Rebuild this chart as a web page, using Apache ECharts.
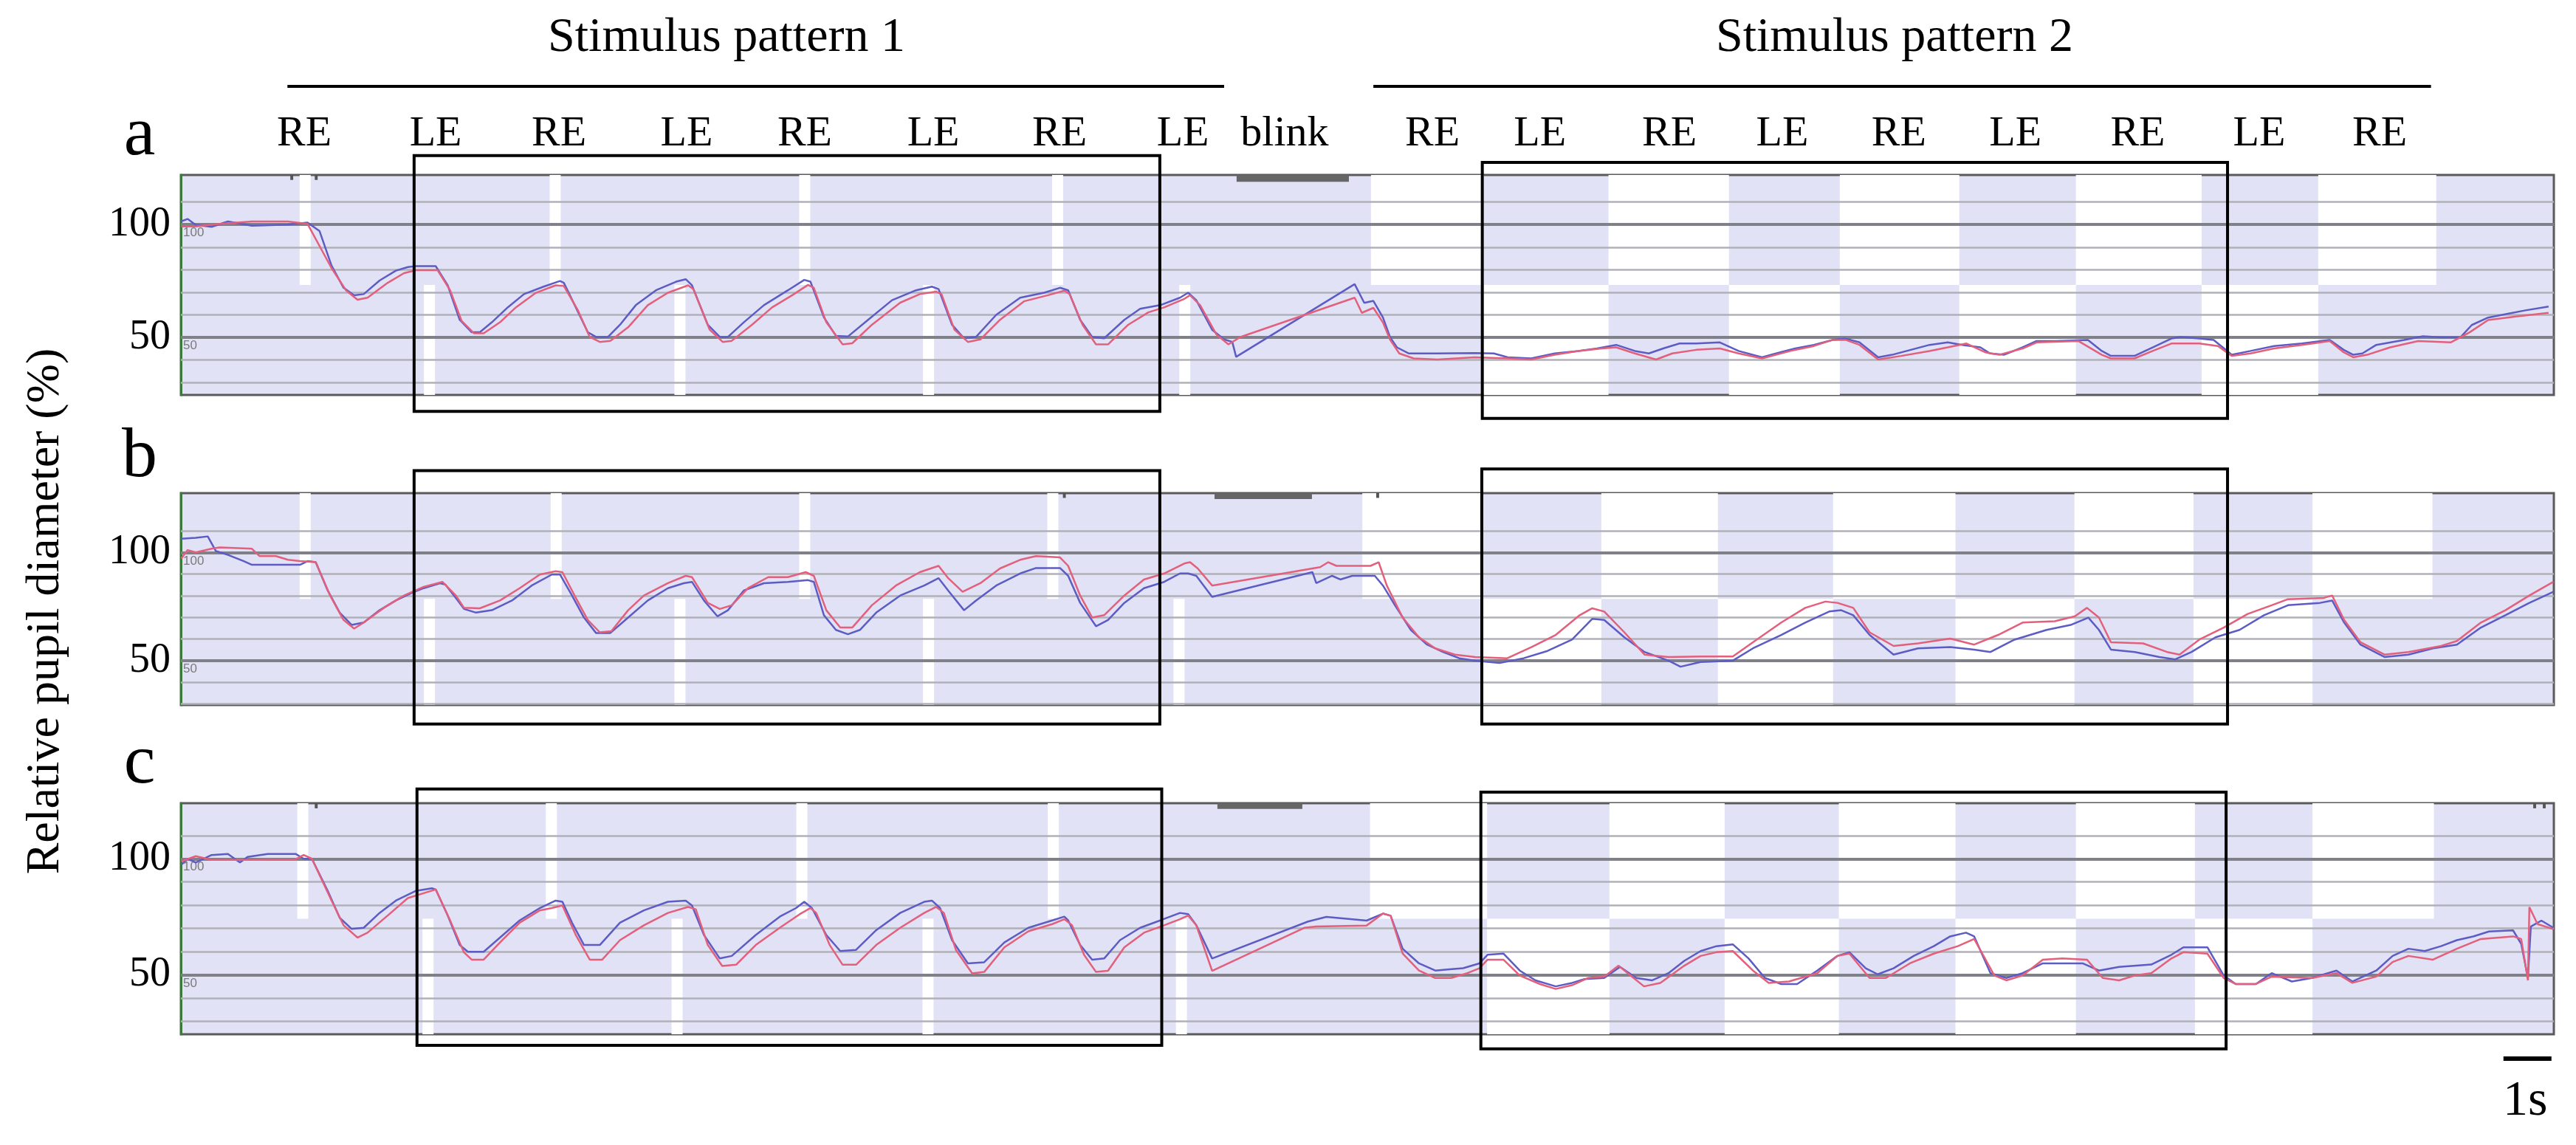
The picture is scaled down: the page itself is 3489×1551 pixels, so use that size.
<!DOCTYPE html>
<html>
<head>
<meta charset="utf-8">
<script src="https://cdn.jsdelivr.net/npm/echarts@6/dist/echarts.min.js"></script>
<style>
html, body { margin: 0; padding: 0; background: #fff; }
#chart { width: 3489px; height: 1551px; }
</style>
</head>
<body>
<div id="chart"></div>
<script>
// time in seconds, value = relative pupil diameter (%)
const aBlue = [[0.0,101.4],[0.14,102.5],[0.31,99.8],[0.64,99.0],[0.98,101.4],[1.48,99.5],[2.23,100],[2.64,100.9],[2.89,97.1],[3.14,81.8],[3.39,72.0],[3.61,68.7],[3.81,69.2],[4.14,75.2],[4.48,79.6],[4.73,81.2],[4.90,81.6],[5.31,81.6],[5.56,73.1],[5.81,57.8],[6.06,52.3],[6.23,52.3],[6.48,56.7],[6.81,63.3],[7.15,69.2],[7.56,72.5],[7.90,75.0],[7.98,74.2],[8.23,63.3],[8.48,52.3],[8.65,50.2],[8.90,50.2],[9.15,55.6],[9.48,64.3],[9.90,70.9],[10.32,74.7],[10.52,75.8],[10.65,73.1],[10.98,55.6],[11.23,50.2],[11.40,50.2],[11.73,56.7],[12.15,64.3],[12.65,70.9],[12.99,75.5],[13.12,74.7],[13.40,58.9],[13.65,50.7],[13.90,50.4],[14.32,57.8],[14.82,66.5],[15.32,70.9],[15.65,72.5],[15.79,71.4],[16.07,55.6],[16.32,49.6],[16.57,50.2],[16.99,60.0],[17.49,67.6],[17.99,69.8],[18.32,72.0],[18.49,70.9],[18.74,57.8],[18.99,50.2],[19.24,49.6],[19.66,57.8],[19.99,62.7],[20.41,64.3],[20.82,67.6],[20.99,69.8],[21.16,66.5],[21.49,53.4],[21.74,49.1],[21.91,48.0],[21.99,41.4],[24.46,73.6],[24.66,65.3],[24.85,66.2],[25.05,58.8],[25.20,50.0],[25.34,45.6],[25.59,42.9],[26.18,42.9],[26.96,43.1],[27.36,42.9],[27.65,41.2],[28.14,40.7],[28.63,42.9],[29.12,44.0],[29.51,45.1],[29.91,46.7],[30.30,44.0],[30.59,42.9],[30.89,45.1],[31.23,47.3],[31.58,47.3],[32.07,47.8],[32.46,44.0],[32.95,41.2],[33.24,42.9],[33.64,45.1],[34.03,46.7],[34.42,48.9],[34.69,49.5],[34.98,47.8],[35.37,41.2],[35.66,42.3],[36.05,44.5],[36.44,46.7],[36.82,47.8],[37.12,46.7],[37.50,45.6],[37.70,42.9],[37.99,42.3],[38.38,45.6],[38.67,48.4],[39.06,48.4],[39.74,48.9],[40.03,44.0],[40.22,41.8],[40.71,41.8],[41.09,45.6],[41.48,49.5],[41.68,50.2],[42.06,49.5],[42.36,48.9],[42.55,45.6],[42.74,42.3],[43.13,44.0],[43.62,46.2],[44.20,47.3],[44.78,48.9],[45.07,44.5],[45.27,42.3],[45.46,42.9],[45.75,46.7],[46.33,48.9],[46.72,50.5],[47.11,50.0],[47.50,50.0],[47.74,55.5],[48.08,58.8],[48.47,60.4],[48.86,62.0],[49.34,63.7]];
const aRed = [[0.01,99.2],[0.31,99.2],[0.81,100.3],[1.48,101.4],[2.23,101.4],[2.64,100.3],[3.14,80.7],[3.44,70.9],[3.68,66.7],[3.89,67.6],[4.31,74.2],[4.65,78.5],[4.90,79.8],[5.35,79.8],[5.61,70.9],[5.85,57.3],[6.11,51.8],[6.31,51.8],[6.65,56.7],[6.98,63.3],[7.40,69.8],[7.81,73.1],[7.98,72.8],[8.27,62.2],[8.52,50.2],[8.73,48.0],[8.95,48.5],[9.32,54.5],[9.73,64.3],[10.15,69.8],[10.57,73.1],[10.68,71.4],[11.02,53.4],[11.29,48.0],[11.48,48.5],[11.90,55.6],[12.32,63.3],[12.74,68.7],[13.07,73.3],[13.19,72.0],[13.45,56.7],[13.79,46.9],[13.99,47.4],[14.40,55.6],[14.99,65.4],[15.40,69.2],[15.74,70.3],[15.85,69.2],[16.12,53.4],[16.40,48.0],[16.66,49.1],[17.07,57.8],[17.57,66.0],[18.07,68.7],[18.41,70.7],[18.52,69.2],[18.79,55.6],[19.07,46.9],[19.32,46.9],[19.74,55.6],[20.16,61.1],[20.49,63.3],[20.91,67.1],[21.03,68.7],[21.24,64.3],[21.58,51.3],[21.83,46.9],[22.08,50.2],[24.46,67.6],[24.61,60.9],[24.85,63.1],[25.05,56.6],[25.20,48.9],[25.39,42.9],[25.69,40.7],[26.18,40.2],[26.96,41.2],[27.65,40.7],[28.14,40.2],[28.63,42.3],[29.12,44.0],[29.61,45.1],[29.91,45.6],[30.30,42.9],[30.74,40.2],[31.08,42.9],[31.58,44.5],[32.07,45.1],[32.46,42.9],[32.95,40.7],[33.54,44.0],[34.03,46.2],[34.42,48.9],[34.69,48.9],[34.98,46.7],[35.37,40.2],[35.85,41.8],[36.44,44.0],[36.82,45.6],[37.21,47.3],[37.60,43.4],[37.89,42.3],[38.38,45.1],[38.67,47.8],[39.54,48.4],[40.03,42.3],[40.22,40.7],[40.71,40.7],[41.09,44.0],[41.48,47.3],[42.06,47.3],[42.45,46.2],[42.74,41.8],[43.13,42.9],[43.62,45.1],[44.20,46.7],[44.78,48.4],[45.07,43.4],[45.27,41.2],[45.56,42.3],[46.04,45.6],[46.62,48.4],[47.30,47.8],[47.69,52.2],[48.08,57.7],[48.66,59.3],[49.34,60.9]];
const bBlue = [[0.01,106.3],[0.31,106.8],[0.56,107.4],[0.73,100.6],[0.98,98.9],[1.31,96.0],[1.48,94.3],[2.48,94.3],[2.64,96.0],[2.81,95.5],[3.06,82.4],[3.31,72.2],[3.56,66.5],[3.81,67.6],[4.14,73.3],[4.48,77.8],[4.81,81.3],[5.06,83.5],[5.40,85.8],[5.51,85.2],[5.73,79.0],[5.90,73.9],[6.15,72.2],[6.48,73.3],[6.90,77.8],[7.31,84.7],[7.73,89.8],[7.90,89.8],[8.15,80.1],[8.40,69.9],[8.65,62.8],[8.95,62.8],[9.32,69.9],[9.73,77.8],[10.15,83.5],[10.48,85.8],[10.65,86.4],[10.90,77.8],[11.18,70.5],[11.40,73.3],[11.73,82.4],[12.15,85.8],[12.65,86.4],[13.07,87.2],[13.19,86.4],[13.40,71.0],[13.65,64.2],[13.90,62.2],[14.15,64.2],[14.49,72.2],[14.99,80.1],[15.49,84.7],[15.79,88.1],[15.99,82.4],[16.32,73.3],[16.57,77.8],[16.99,84.7],[17.49,90.3],[17.82,92.8],[18.32,92.8],[18.49,89.2],[18.74,76.7],[19.07,65.9],[19.32,68.8],[19.66,76.7],[20.07,83.5],[20.49,86.4],[20.82,90.3],[20.99,90.3],[21.16,89.2],[21.49,79.5],[23.58,90.9],[23.66,85.8],[23.99,89.2],[24.16,87.5],[24.41,89.2],[24.88,89.2],[25.05,84.7],[25.30,75.6],[25.63,64.2],[25.97,57.4],[26.30,54.0],[26.64,51.1],[26.97,50.0],[27.48,48.9],[27.98,51.1],[28.48,54.5],[28.99,59.7],[29.41,69.3],[29.66,68.8],[30.08,60.8],[30.50,54.0],[31.00,50.0],[31.25,47.2],[31.67,49.4],[32.34,50.0],[32.76,55.7],[33.35,61.9],[33.85,67.6],[34.35,72.7],[34.60,73.3],[34.85,71.0],[35.19,61.9],[35.69,52.8],[36.20,55.7],[36.87,56.3],[37.37,55.1],[37.71,54.0],[38.21,59.7],[38.88,64.2],[39.38,66.5],[39.75,69.9],[39.97,64.2],[40.22,55.1],[40.72,54.0],[41.23,51.7],[41.56,50.6],[41.90,54.0],[42.40,60.8],[42.90,64.2],[43.41,71.0],[43.91,75.6],[44.58,76.7],[44.83,77.8],[45.08,67.6],[45.42,57.4],[45.92,51.7],[46.42,52.8],[46.93,55.7],[47.43,57.4],[47.93,65.3],[48.44,71.0],[48.94,76.7],[49.44,81.8]];
const bRed = [[0.01,97.2],[0.14,101.1],[0.31,100.0],[0.64,101.7],[0.81,102.3],[1.48,101.7],[1.64,98.3],[1.98,98.3],[2.23,96.6],[2.48,96.0],[2.81,95.5],[3.11,80.1],[3.39,68.8],[3.61,64.8],[3.81,67.6],[4.23,74.4],[4.65,80.1],[5.06,84.1],[5.45,86.4],[5.73,80.1],[5.90,74.4],[6.23,74.2],[6.65,77.8],[7.06,83.5],[7.48,89.8],[7.81,91.3],[7.95,90.9],[8.23,79.0],[8.48,68.8],[8.73,63.1],[8.97,63.6],[9.32,73.3],[9.65,80.1],[10.15,85.8],[10.52,89.2],[10.65,88.6],[10.98,76.7],[11.23,73.9],[11.48,75.6],[11.82,83.5],[12.24,88.6],[12.65,88.6],[13.02,90.9],[13.19,89.2],[13.45,73.3],[13.74,65.3],[13.99,65.3],[14.40,75.6],[14.90,84.7],[15.40,90.9],[15.79,93.8],[15.99,88.1],[16.29,81.8],[16.66,85.8],[17.07,92.6],[17.49,96.6],[17.82,98.3],[18.32,97.7],[18.49,93.8],[18.74,80.1],[18.99,69.9],[19.24,71.0],[19.66,80.1],[20.07,87.5],[20.49,90.3],[20.91,94.9],[21.03,95.5],[21.19,92.6],[21.49,84.7],[23.74,93.2],[23.91,95.5],[24.08,93.8],[24.79,93.8],[24.96,95.5],[25.13,84.7],[25.46,69.9],[25.80,60.8],[26.14,55.7],[26.55,52.8],[26.97,51.7],[27.64,51.1],[28.15,56.3],[28.65,61.9],[29.15,71.0],[29.41,74.2],[29.66,72.7],[30.08,63.1],[30.50,52.8],[31.00,51.7],[31.67,51.9],[32.34,51.9],[32.76,58.5],[33.35,67.6],[33.85,74.4],[34.27,77.3],[34.52,76.7],[34.85,74.4],[35.19,63.1],[35.69,56.8],[36.20,58.0],[36.87,60.2],[37.37,57.4],[37.87,61.9],[38.38,67.6],[39.05,68.2],[39.47,70.5],[39.72,74.4],[39.97,69.9],[40.22,58.5],[40.89,58.0],[41.39,54.0],[41.65,52.8],[42.06,59.7],[42.57,65.3],[43.07,71.6],[43.57,75.6],[43.91,78.4],[44.66,79.0],[44.83,80.1],[45.08,68.8],[45.42,58.5],[45.92,52.8],[46.42,54.0],[47.10,56.8],[47.43,59.1],[47.93,67.6],[48.44,73.3],[48.94,80.1],[49.44,86.4]];
const cBlue = [[0.01,97.4],[0.14,100.0],[0.31,98.4],[0.64,101.6],[0.98,102.1],[1.23,98.4],[1.39,100.8],[1.81,102.1],[2.39,102.1],[2.56,100.0],[2.73,100.0],[3.06,86.2],[3.31,74.6],[3.56,69.8],[3.81,70.3],[4.14,76.7],[4.48,82.0],[4.90,86.2],[5.23,87.3],[5.31,86.8],[5.56,75.6],[5.81,62.9],[5.98,60.0],[6.31,60.0],[6.65,66.1],[7.06,73.5],[7.48,78.8],[7.81,82.0],[7.95,81.5],[8.15,72.5],[8.40,62.9],[8.73,62.9],[9.15,72.5],[9.65,77.8],[10.15,81.5],[10.52,82.0],[10.65,79.9],[10.90,67.2],[11.23,57.1],[11.48,58.2],[11.98,67.2],[12.48,75.1],[12.82,78.8],[12.99,81.5],[13.15,78.8],[13.45,67.2],[13.74,60.3],[14.07,60.8],[14.49,69.3],[14.99,76.7],[15.49,81.5],[15.65,82.0],[15.82,78.8],[16.07,65.0],[16.40,55.0],[16.74,55.5],[17.16,64.0],[17.66,70.3],[18.16,73.5],[18.41,75.1],[18.49,73.5],[18.74,62.9],[18.99,56.6],[19.24,57.1],[19.57,65.0],[19.99,70.3],[20.41,73.5],[20.82,76.7],[20.99,76.2],[21.16,71.4],[21.49,57.1],[23.49,73.0],[23.87,75.0],[24.71,73.4],[25.05,76.4],[25.21,75.5],[25.46,61.3],[25.80,55.0],[26.14,51.9],[26.39,52.4],[26.72,52.9],[27.06,55.0],[27.23,58.7],[27.56,59.2],[27.90,51.9],[28.23,47.7],[28.65,45.1],[28.99,46.6],[29.24,48.2],[29.66,48.7],[29.99,53.5],[30.33,48.7],[30.66,47.7],[31.00,50.8],[31.33,56.1],[31.67,60.3],[32.00,62.4],[32.34,63.2],[32.67,57.1],[33.01,48.7],[33.35,46.1],[33.68,46.1],[34.10,51.9],[34.52,58.2],[34.77,59.8],[35.11,52.9],[35.36,50.3],[35.69,52.9],[36.11,58.2],[36.53,62.4],[36.87,66.6],[37.20,68.2],[37.37,66.6],[37.71,50.8],[38.04,48.7],[38.38,50.8],[38.80,55.0],[39.63,55.0],[39.97,51.9],[40.39,53.5],[41.06,54.5],[41.48,58.7],[41.73,61.9],[42.23,61.9],[42.57,49.8],[42.82,46.1],[43.24,46.1],[43.57,50.8],[43.99,47.2],[44.41,48.7],[44.92,51.9],[45.25,47.2],[45.75,51.9],[46.09,58.2],[46.42,61.3],[46.76,60.3],[47.10,62.4],[47.43,65.0],[47.77,66.6],[48.10,68.7],[48.60,69.2],[48.77,63.4],[48.91,48.7],[48.97,70.8],[49.19,73.4],[49.44,70.3]];
const cRed = [[0.01,98.9],[0.31,101.1],[0.64,99.5],[1.48,99.5],[2.39,99.8],[2.56,101.6],[2.73,100.0],[3.14,82.0],[3.39,71.4],[3.68,66.1],[3.89,68.2],[4.31,75.6],[4.73,83.1],[5.06,85.2],[5.31,86.8],[5.61,73.5],[5.90,59.7],[6.06,56.6],[6.31,56.6],[6.65,64.0],[7.06,72.5],[7.48,77.8],[7.73,78.8],[7.95,79.9],[8.23,67.2],[8.52,56.6],[8.78,56.6],[9.15,65.0],[9.65,71.4],[10.15,76.7],[10.57,79.3],[10.73,78.3],[10.98,62.9],[11.28,53.9],[11.57,54.4],[11.98,62.9],[12.48,70.3],[12.90,76.2],[13.12,78.8],[13.24,76.7],[13.52,62.9],[13.79,54.4],[14.07,54.4],[14.49,62.9],[14.99,70.3],[15.49,76.7],[15.74,79.3],[15.90,76.7],[16.15,60.8],[16.49,50.7],[16.74,51.3],[17.16,61.9],[17.66,68.8],[18.16,71.9],[18.41,74.0],[18.57,71.4],[18.82,58.7],[19.07,51.3],[19.32,51.8],[19.66,61.9],[20.07,68.2],[20.49,71.4],[20.82,74.0],[20.99,75.6],[21.16,71.4],[21.49,51.8],[23.41,70.3],[23.66,70.9],[24.71,71.3],[25.05,76.4],[25.21,75.5],[25.46,59.2],[25.80,51.9],[26.14,48.7],[26.47,48.7],[26.81,50.8],[27.06,52.9],[27.23,56.6],[27.56,56.6],[27.90,49.8],[28.32,46.1],[28.65,44.0],[28.99,45.6],[29.32,48.7],[29.66,49.3],[29.96,54.0],[30.24,49.3],[30.49,45.1],[30.83,46.6],[31.33,54.0],[31.67,58.2],[32.00,59.8],[32.34,60.3],[32.76,51.9],[33.09,46.6],[33.51,47.2],[34.10,50.8],[34.52,58.2],[34.77,59.2],[35.19,48.7],[35.53,48.7],[36.03,55.0],[36.53,59.2],[37.03,62.4],[37.37,65.5],[37.54,59.2],[37.79,49.8],[38.04,47.7],[38.38,49.8],[38.80,56.6],[39.21,57.1],[39.72,56.6],[40.05,48.7],[40.39,47.7],[40.72,49.8],[41.06,50.8],[41.48,57.1],[41.73,59.8],[42.23,59.2],[42.57,48.7],[42.82,46.1],[43.24,46.1],[43.57,49.3],[44.41,48.7],[44.92,50.8],[45.25,46.6],[45.75,49.3],[46.09,55.6],[46.42,58.2],[46.93,56.6],[47.43,61.3],[47.93,65.5],[48.60,66.6],[48.77,65.5],[48.91,47.7],[48.94,79.2],[49.11,71.9],[49.44,69.7]];

// stimulus timing (s): short gaps in pattern 1, alternating blocks in pattern 2
const aTopGaps = [2.59, 7.80, 13.0, 18.27];
const aBottomGaps = [5.18, 10.40, 15.58, 20.92];
const aBlocks = [24.80, 27.15, 29.75, 32.26, 34.57, 37.06, 39.49, 42.11, 44.54, 47.0];
const aBlink = [22.0, 24.34];
const aMarks = [2.31, 2.82];
const bTopGaps = [2.59, 7.82, 13.0, 18.17];
const bBottomGaps = [5.18, 10.4, 15.58, 20.8];
const bBlocks = [24.62, 27.14, 29.6, 32.03, 34.43, 36.98, 39.46, 41.94, 44.42, 46.92];
const bBlink = [21.54, 23.57];
const bMarks = [18.41, 24.94];
const cTopGaps = [2.54, 7.72, 12.94, 18.18];
const cBottomGaps = [5.15, 10.34, 15.57, 20.85];
const cBlocks = [24.78, 27.22, 29.77, 32.17, 34.55, 36.98, 39.49, 41.97, 44.42, 46.95];
const cBlink = [21.6, 23.37];
const cMarks = [2.82, 49.05, 49.25];

// highlighted windows [t0, t1, v0, v1]
const aBoxes = [[4.86, 20.40, 17.2, 130.6], [27.12, 42.65, 14.1, 127.6]];
const bBoxes = [[4.86, 20.40, 20.7, 137.8], [27.11, 42.65, 20.7, 138.6]];
const cBoxes = [[4.92, 20.44, 19.7, 130.0], [27.09, 42.62, 18.2, 128.7]];

const eyeLabels = ['RE','LE','RE','LE','RE','LE','RE','LE','blink','RE','LE','RE','LE','RE','LE','RE','LE','RE'];
const eyeLabelTimes = [2.57, 5.31, 7.88, 10.54, 13.0, 15.68, 18.31, 20.88, 23.0, 26.08, 28.32, 31.02, 33.37, 35.8, 38.23, 40.78, 43.31, 45.82];
const patternTitles = ['Stimulus pattern 1', 'Stimulus pattern 2'];
const patternTitleTimes = [11.37, 35.71];
const patternSpans = [[2.22, 21.74], [24.85, 46.89]];
const gridValues = [30, 40, 50, 60, 70, 80, 90, 100, 110];
const scaleBar = [48.4, 49.4];

const T_END = 49.45;
const GAP_W = 0.23;
const SERIF = '"Liberation Serif", "Times New Roman", serif';
const LAV = '#e2e2f7';
const BLUE = '#5c5cc4';
const RED = '#e3607c';

const panels = [
  { top: 237, height: 298, min: 24.5, max: 122.0, split: 73.25, blinkH: 3.0,
    blue: aBlue, red: aRed, topGaps: aTopGaps, bottomGaps: aBottomGaps, blocks: aBlocks, blink: aBlink, marks: aMarks, boxes: aBoxes },
  { top: 668, height: 287, min: 29.5, max: 127.4, split: 78.5, blinkH: 2.7,
    blue: bBlue, red: bRed, topGaps: bTopGaps, bottomGaps: bBottomGaps, blocks: bBlocks, blink: bBlink, marks: bMarks, boxes: bBoxes },
  { top: 1088, height: 313, min: 24.5, max: 123.9, split: 74.2, blinkH: 2.5,
    blue: cBlue, red: cRed, topGaps: cTopGaps, bottomGaps: cBottomGaps, blocks: cBlocks, blink: cBlink, marks: cMarks, boxes: cBoxes }
];

function whiteAreas(p) {
  const out = [];
  const hw = GAP_W / 2;
  p.topGaps.forEach(t => out.push([{ xAxis: t - hw, yAxis: p.split }, { xAxis: t + hw, yAxis: p.max }]));
  p.bottomGaps.forEach(t => out.push([{ xAxis: t - hw, yAxis: p.min }, { xAxis: t + hw, yAxis: p.split }]));
  for (let i = 0; i < p.blocks.length - 1; i++) {
    const topWhite = i % 2 === 0;
    out.push([
      { xAxis: p.blocks[i], yAxis: topWhite ? p.split : p.min },
      { xAxis: p.blocks[i + 1], yAxis: topWhite ? p.max : p.split }
    ]);
  }
  // blink marker on the top edge
  out.push([
    { xAxis: p.blink[0], yAxis: p.max - p.blinkH, itemStyle: { color: '#666666', opacity: 1 } },
    { xAxis: p.blink[1], yAxis: p.max }
  ]);
  // small event ticks on the top edge
  p.marks.forEach(t => out.push([
    { xAxis: t - 0.03, yAxis: p.max - 2.2, itemStyle: { color: '#555555', opacity: 1 } },
    { xAxis: t + 0.03, yAxis: p.max }
  ]));
  return out;
}

const chart = echarts.init(document.getElementById('chart'));

const option = {
  animation: false,
  backgroundColor: '#ffffff',
  grid: panels.map(p => ({
    left: 245, right: 30, top: p.top, height: p.height,
    show: true, backgroundColor: LAV, borderColor: '#5a5a5a', borderWidth: 3
  })),
  xAxis: panels.map((p, i) => ({
    gridIndex: i, type: 'value', min: 0, max: T_END, show: false
  })),
  yAxis: panels.map((p, i) => ({
    gridIndex: i, type: 'value', min: p.min, max: p.max,
    axisLine: { show: true, lineStyle: { color: '#3c7a3c', width: 3 } },
    axisTick: { show: false },
    splitLine: { show: false },
    axisLabel: { customValues: [50, 100], fontFamily: SERIF, fontSize: 56, color: '#000', margin: 14 }
  })),
  series: []
};

panels.forEach((p, i) => {
  option.series.push({
    type: 'line', xAxisIndex: i, yAxisIndex: i, data: [], z: 1, silent: true,
    markArea: {
      silent: true, z: 1,
      itemStyle: { color: '#ffffff', opacity: 1, borderWidth: 0 },
      data: whiteAreas(p)
    },
    markLine: {
      silent: true, z: 2, symbol: ['none', 'none'],
      data: gridValues.map(v => {
        const major = v === 50 || v === 100;
        return {
          yAxis: v,
          lineStyle: { color: major ? '#808088' : '#b0b0b8', width: major ? 4 : 2.5, type: 'solid' },
          label: { show: major, formatter: String(v), position: 'insideStartBottom',
                   fontSize: 17, color: '#7a7a7a', fontFamily: 'Arial', distance: 3 }
        };
      })
    }
  });
  option.series.push({
    type: 'line', xAxisIndex: i, yAxisIndex: i, data: p.blue, z: 3,
    showSymbol: false, symbol: 'none', lineStyle: { color: BLUE, width: 2.5 }
  });
  option.series.push({
    type: 'line', xAxisIndex: i, yAxisIndex: i, data: p.red, z: 4,
    showSymbol: false, symbol: 'none', lineStyle: { color: RED, width: 2.5 }
  });
});

chart.setOption(option);

function px(g, t, v) {
  return chart.convertToPixel({ gridIndex: g }, [t, v]);
}
function label(text, x, y, size, extra) {
  return Object.assign({
    type: 'text', x: x, y: y, z: 10, silent: true,
    style: { text: text, font: size + 'px ' + SERIF, fill: '#000', align: 'center', verticalAlign: 'middle' }
  }, extra || {});
}

const graphics = [];
// panel letters
['a', 'b', 'c'].forEach((s, i) => graphics.push(label(s, 189, [184, 620, 1035][i], 96)));
// y axis title
graphics.push(label('Relative pupil diameter (%)', 62, 828, 64, { rotation: Math.PI / 2 }));
// stimulus pattern titles and rules
patternTitles.forEach((title, i) => {
  const x0 = px(0, patternSpans[i][0], 0)[0];
  const x1 = px(0, patternSpans[i][1], 0)[0];
  graphics.push(label(title, px(0, patternTitleTimes[i], 0)[0], 52, 66));
  graphics.push({ type: 'line', z: 10, silent: true, shape: { x1: x0, y1: 117, x2: x1, y2: 117 },
                  style: { stroke: '#000', lineWidth: 4 } });
});
// eye labels
eyeLabels.forEach((s, i) => {
  graphics.push(label(s, px(0, eyeLabelTimes[i], 0)[0], 182, 58));
});
// boxes
panels.forEach((p, i) => {
  p.boxes.forEach(b => {
    const p0 = px(i, b[0], b[3]);
    const p1 = px(i, b[1], b[2]);
    graphics.push({ type: 'rect', z: 10, silent: true,
      shape: { x: p0[0], y: p0[1], width: p1[0] - p0[0], height: p1[1] - p0[1] },
      style: { fill: 'transparent', stroke: '#000', lineWidth: 4 } });
  });
});
// scale bar
const sb0 = px(2, scaleBar[0], 0)[0];
const sb1 = px(2, scaleBar[1], 0)[0];
graphics.push({ type: 'line', z: 10, silent: true, shape: { x1: sb0, y1: 1434, x2: sb1, y2: 1434 },
                style: { stroke: '#000', lineWidth: 6 } });
graphics.push(label('1s', (sb0 + sb1) / 2 - 3, 1492, 68));

chart.setOption({ graphic: graphics });
</script>
</body>
</html>
